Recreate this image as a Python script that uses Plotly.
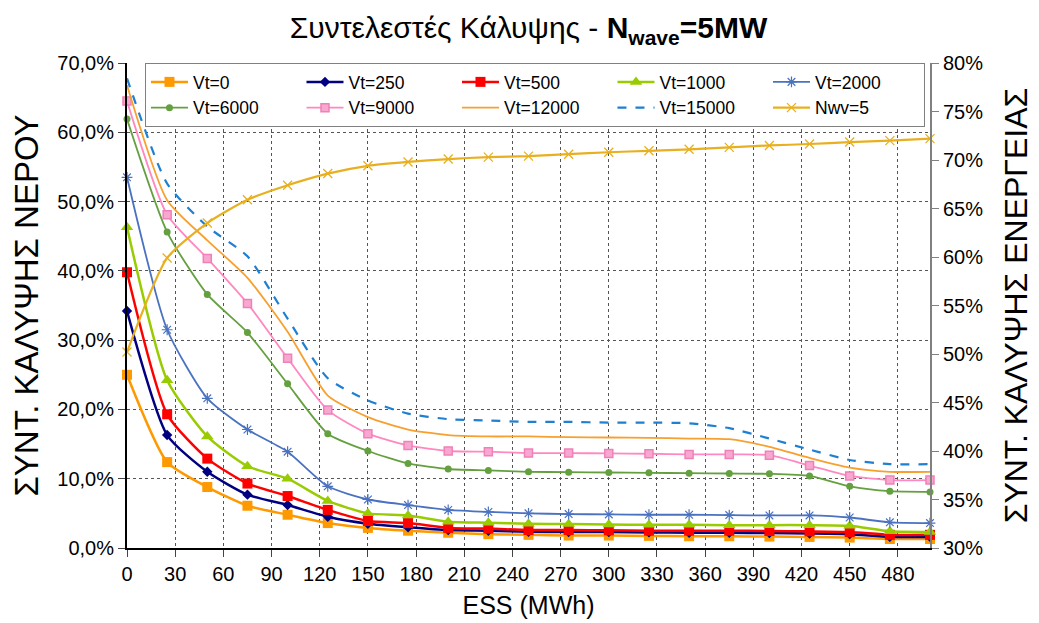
import plotly.graph_objects as go

# ESS storage (MWh)
ess = [0, 25, 50, 75, 100, 125, 150, 175, 200, 225, 250, 275, 300, 325, 350, 375, 400, 425, 450, 475, 500]

# water coverage (%) per tank volume
vt0 = [25.0, 12.4, 8.8, 6.1, 4.8, 3.6, 2.9, 2.5, 2.2, 2.0, 1.9, 1.8, 1.8, 1.75, 1.7, 1.7, 1.65, 1.6, 1.5, 1.3, 1.3]
vt250 = [34.2, 16.3, 11.0, 7.7, 6.2, 4.5, 3.5, 3.0, 2.6, 2.5, 2.35, 2.3, 2.3, 2.25, 2.2, 2.2, 2.15, 2.1, 2.0, 1.6, 1.6]
vt500 = [39.8, 19.3, 12.9, 9.3, 7.5, 5.5, 3.9, 3.6, 2.9, 2.8, 2.6, 2.6, 2.55, 2.5, 2.5, 2.5, 2.45, 2.4, 2.3, 1.9, 1.9]
vt1000 = [46.3, 24.2, 16.1, 11.8, 10.0, 6.8, 5.0, 4.7, 3.8, 3.65, 3.5, 3.45, 3.4, 3.35, 3.35, 3.3, 3.3, 3.3, 3.2, 2.4, 2.3]
vt2000 = [53.5, 31.5, 21.6, 17.1, 13.9, 8.9, 7.0, 6.2, 5.5, 5.2, 5.0, 4.9, 4.85, 4.8, 4.8, 4.75, 4.7, 4.7, 4.4, 3.7, 3.6]
vt6000 = [61.9, 45.6, 36.6, 31.1, 23.7, 16.5, 14.0, 12.2, 11.4, 11.2, 11.0, 10.95, 10.9, 10.85, 10.8, 10.75, 10.7, 10.4, 8.9, 8.2, 8.1]
vt9000 = [64.5, 48.1, 41.8, 35.3, 27.4, 19.9, 16.5, 14.8, 14.0, 13.9, 13.7, 13.7, 13.65, 13.6, 13.5, 13.5, 13.4, 11.9, 10.4, 9.8, 9.8]
vt12000 = [66.8, 50.2, 44.4, 39.0, 31.2, 22.0, 18.9, 17.1, 16.3, 16.1, 16.1, 16.0, 15.95, 15.9, 15.8, 15.7, 14.6, 13.0, 11.6, 11.0, 11.0]
vt15000 = [67.8, 52.6, 46.4, 42.1, 33.1, 24.5, 21.3, 19.4, 18.6, 18.4, 18.2, 18.2, 18.1, 18.1, 18.0, 17.3, 15.8, 14.2, 12.7, 12.1, 12.1]

# energy coverage (%) - right axis
nwv5 = [50.2, 59.9, 63.5, 65.9, 67.4, 68.6, 69.4, 69.8, 70.1, 70.3, 70.4, 70.6, 70.8, 70.95, 71.1, 71.3, 71.5, 71.65, 71.85, 72.0, 72.2]

series = [
    ("Vt=0", vt0, "#FF9900", "square", 10, "solid", 2.5),
    ("Vt=250", vt250, "#000080", "diamond", 8, "solid", 2.5),
    ("Vt=500", vt500, "#FF0000", "square", 10, "solid", 2.5),
    ("Vt=1000", vt1000, "#99CC00", "triangle-up", 11, "solid", 2.5),
    ("Vt=2000", vt2000, "#4A72C0", "asterisk-open", 9, "solid", 1.8),
    ("Vt=6000", vt6000, "#64A040", "circle", 7, "solid", 1.8),
    ("Vt=9000", vt9000, "#FF88C0", "square", 8, "solid", 1.8),
    ("Vt=12000", vt12000, "#F7A030", None, 0, "solid", 1.8),
    ("Vt=15000", vt15000, "#1F7FD0", None, 0, "dash", 2.2),
]

fig = go.Figure()
for name, vals, col, sym, sz, dash, w in series:
    mk = dict(size=sz, color=col)
    if sym is None:
        mode = "lines"
    else:
        mode = "lines+markers"
        mk["symbol"] = sym
        if sym == "asterisk-open":
            mk["line"] = dict(color="#9AB4E6", width=1.2)
        elif name == "Vt=9000":
            mk["color"] = "#F8A8D0"
            mk["line"] = dict(color="#F080B8", width=1.5)
    fig.add_trace(go.Scatter(
        x=ess, y=[v / 100 for v in vals], name=name, mode=mode, cliponaxis=False,
        line=dict(color=col, width=w, dash=dash, shape="spline", smoothing=0.6),
        marker=mk,
    ))

fig.add_trace(go.Scatter(
    x=ess, y=[v / 100 for v in nwv5], name="Nwv=5", mode="lines+markers", yaxis="y2",
    cliponaxis=False,
    line=dict(color="#E8B020", width=2.2, shape="spline", smoothing=0.6),
    marker=dict(symbol="x-thin-open", size=9, line=dict(color="#F5D890", width=1.3)),
))

fnt = "Liberation Sans, Arial, sans-serif"
grid = dict(showgrid=True, gridcolor="#555555", griddash="dot", gridwidth=1)

# page body has an 8px margin, so the figure is a bit smaller than the window
fig.update_layout(
    width=1031, height=615,
    margin=dict(l=119, r=109, t=55, b=75),
    paper_bgcolor="white", plot_bgcolor="white",
    separators=",.",
    font=dict(family=fnt, size=20, color="black"),
    title=dict(text="Συντελεστές Κάλυψης - <b>N<sub>wave</sub>=5MW</b>", x=0.5, xref="paper",
               y=0.985, yanchor="top", font=dict(size=30)),
    xaxis=dict(range=[0, 500], tick0=0, dtick=30, ticks="outside", ticklen=7,
               showline=True, linecolor="black", linewidth=2, automargin=False,
               title=dict(text="ESS (MWh)", font=dict(size=25), standoff=12), **grid),
    yaxis=dict(range=[0, 0.7], dtick=0.1, tickformat=".1%", ticks="outside", ticklen=7,
               showline=True, linecolor="black", linewidth=2, zeroline=False, automargin=False,
               title=dict(text="ΣΥΝΤ. ΚΑΛΥΨΗΣ ΝΕΡΟΥ", font=dict(size=33), standoff=10), **grid),
    yaxis2=dict(range=[0.3, 0.8], dtick=0.05, tickformat=".0%", overlaying="y", side="right",
                ticks="outside", ticklen=7, tickcolor="#808080", showgrid=False, zeroline=False,
                showline=True, linecolor="#808080", linewidth=2, automargin=False,
                title=dict(text="ΣΥΝΤ. ΚΑΛΥΨΗΣ ΕΝΕΡΓΕΙΑΣ", font=dict(size=32), standoff=22)),
    legend=dict(orientation="h", x=0.0224, y=1.0, xanchor="left", yanchor="top",
                entrywidth=103.5, entrywidthmode="pixels", itemwidth=37,
                bgcolor="white", bordercolor="#808080", borderwidth=1,
                font=dict(size=17.5), tracegroupgap=0),
)

fig.write_html("out.html")
